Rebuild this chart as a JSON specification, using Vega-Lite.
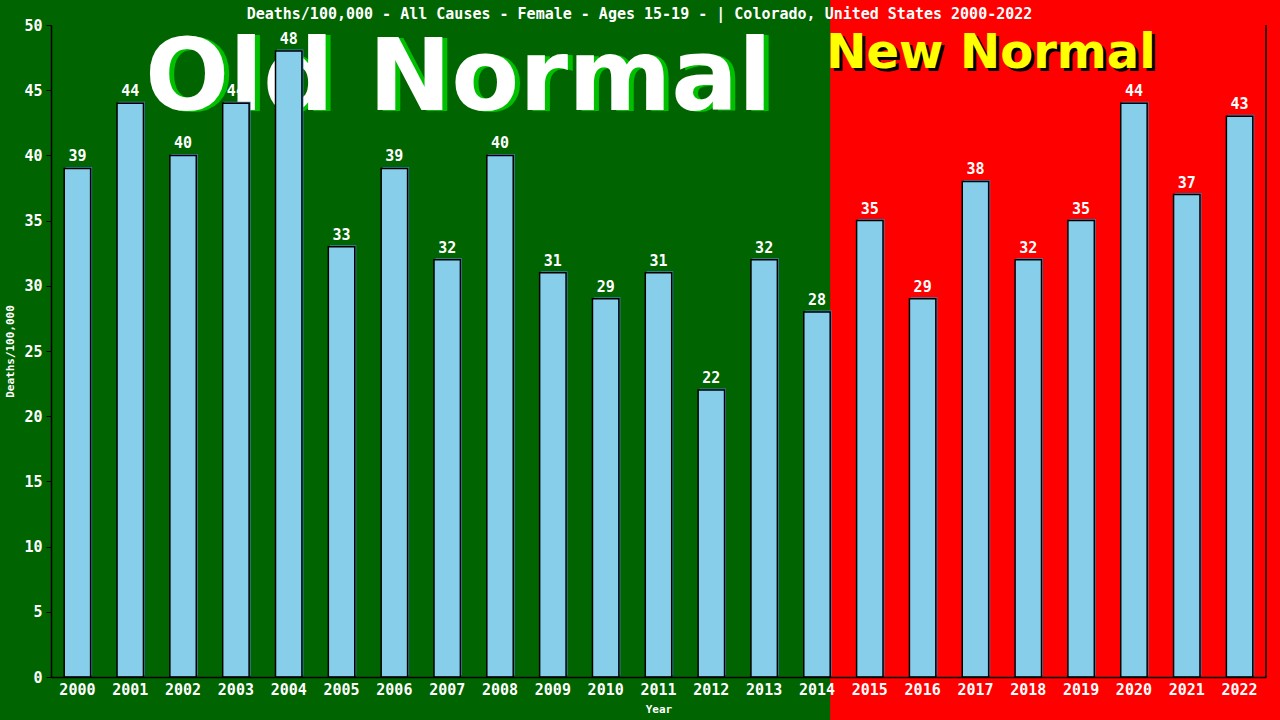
{
  "$schema": "https://vega.github.io/schema/vega-lite/v6.json",
  "width": 1215,
  "height": 652,
  "autosize": "none",
  "padding": {"left": 51, "top": 25, "right": 14, "bottom": 43},
  "background": "#006400",
  "config": {
    "view": {"stroke": null},
    "axis": {
      "domainColor": "black",
      "domainWidth": 1.5,
      "tickColor": "black",
      "labelColor": "white",
      "labelFont": "DejaVu Sans Mono",
      "labelFontSize": 15,
      "labelFontWeight": "bold",
      "titleColor": "white",
      "titleFont": "DejaVu Sans Mono",
      "titleFontSize": 11,
      "titleFontWeight": "bold",
      "grid": false
    },
    "axisX": {"labelAngle": 0, "labelAlign": "center", "labelBaseline": "top", "ticks": false, "bandPosition": 0.5}
  },
  "title": {
    "text": "Deaths/100,000 - All Causes - Female - Ages 15-19 -  | Colorado, United States 2000-2022",
    "font": "DejaVu Sans Mono",
    "fontSize": 15,
    "fontWeight": "bold",
    "color": "white",
    "baseline": "alphabetic",
    "offset": -34,
    "dx": -19
  },
  "datasets": {
    "deaths": [
      {"year": 2000, "rate": 39},
      {"year": 2001, "rate": 44},
      {"year": 2002, "rate": 40},
      {"year": 2003, "rate": 44},
      {"year": 2004, "rate": 48},
      {"year": 2005, "rate": 33},
      {"year": 2006, "rate": 39},
      {"year": 2007, "rate": 32},
      {"year": 2008, "rate": 40},
      {"year": 2009, "rate": 31},
      {"year": 2010, "rate": 29},
      {"year": 2011, "rate": 31},
      {"year": 2012, "rate": 22},
      {"year": 2013, "rate": 32},
      {"year": 2014, "rate": 28},
      {"year": 2015, "rate": 35},
      {"year": 2016, "rate": 29},
      {"year": 2017, "rate": 38},
      {"year": 2018, "rate": 32},
      {"year": 2019, "rate": 35},
      {"year": 2020, "rate": 44},
      {"year": 2021, "rate": 37},
      {"year": 2022, "rate": 43}
    ]
  },
  "data": {"name": "deaths"},
  "layer": [
    {
      "data": {"values": [{}]},
      "mark": {"type": "rect", "fill": "#FF0000"},
      "encoding": {
        "x": {"datum": 2014, "type": "ordinal", "bandPosition": 1},
        "x2": {"datum": 2022, "bandPosition": 2.05},
        "y": {"datum": -3.4, "type": "quantitative"},
        "y2": {"datum": 51.92}
      }
    },
    {
      "data": {"values": [{}]},
      "mark": {"type": "text", "text": "Old Normal", "font": "DejaVu Sans", "fontWeight": "bold", "fontSize": 99, "align": "left", "baseline": "alphabetic", "fill": "#00C000", "dx": 5, "dy": 1},
      "encoding": {
        "x": {"datum": 2001, "type": "ordinal", "bandPosition": 1.06},
        "y": {"datum": 43.5, "type": "quantitative"}
      }
    },
    {
      "data": {"values": [{}]},
      "mark": {"type": "text", "text": "Old Normal", "font": "DejaVu Sans", "fontWeight": "bold", "fontSize": 99, "align": "left", "baseline": "alphabetic", "fill": "white"},
      "encoding": {
        "x": {"datum": 2001, "type": "ordinal", "bandPosition": 1.06},
        "y": {"datum": 43.5, "type": "quantitative"}
      }
    },
    {
      "data": {"values": [{}]},
      "mark": {"type": "text", "text": "New Normal", "font": "DejaVu Sans", "fontWeight": "bold", "fontSize": 48, "align": "left", "baseline": "alphabetic", "fill": "black", "dx": 3, "dy": 3},
      "encoding": {
        "x": {"datum": 2014, "type": "ordinal", "bandPosition": 0.85},
        "y": {"datum": 46.7, "type": "quantitative"}
      }
    },
    {
      "data": {"values": [{}]},
      "mark": {"type": "text", "text": "New Normal", "font": "DejaVu Sans", "fontWeight": "bold", "fontSize": 48, "align": "left", "baseline": "alphabetic", "fill": "#FFFF00"},
      "encoding": {
        "x": {"datum": 2014, "type": "ordinal", "bandPosition": 0.85},
        "y": {"datum": 46.7, "type": "quantitative"}
      }
    },
    {
      "mark": {"type": "bar", "fill": "#4682B4", "xOffset": 1.5, "yOffset": -1.5},
      "encoding": {
        "x": {"field": "year", "type": "ordinal"},
        "y": {"field": "rate", "type": "quantitative"}
      }
    },
    {
      "mark": {"type": "bar", "fill": "#87CEEB", "stroke": "black", "strokeWidth": 1.5},
      "encoding": {
        "x": {
          "field": "year",
          "type": "ordinal",
          "title": "Year",
          "scale": {"type": "band", "paddingInner": 0.5, "paddingOuter": 0.25},
          "axis": {"labelAngle": 0, "labelAlign": "center", "ticks": false, "bandPosition": 0.5, "labelPadding": 5, "titlePadding": 6}
        },
        "y": {
          "field": "rate",
          "type": "quantitative",
          "title": "Deaths/100,000",
          "scale": {"domain": [0, 50], "nice": false},
          "axis": {"values": [0, 5, 10, 15, 20, 25, 30, 35, 40, 45, 50], "tickSize": 5, "labelPadding": 4, "titlePadding": 8}
        }
      }
    },
    {
      "mark": {"type": "text", "font": "DejaVu Sans Mono", "fontWeight": "bold", "fontSize": 15, "fill": "white", "baseline": "alphabetic", "dy": -7},
      "encoding": {
        "x": {"field": "year", "type": "ordinal"},
        "y": {"field": "rate", "type": "quantitative"},
        "text": {"field": "rate", "type": "quantitative"}
      }
    },
    {
      "data": {"values": [{}]},
      "mark": {"type": "rule", "stroke": "black", "strokeWidth": 1.5},
      "encoding": {
        "x": {"datum": 2022, "type": "ordinal", "bandPosition": 1.5},
        "y": {"datum": 0, "type": "quantitative"},
        "y2": {"datum": 50}
      }
    }
  ]
}
